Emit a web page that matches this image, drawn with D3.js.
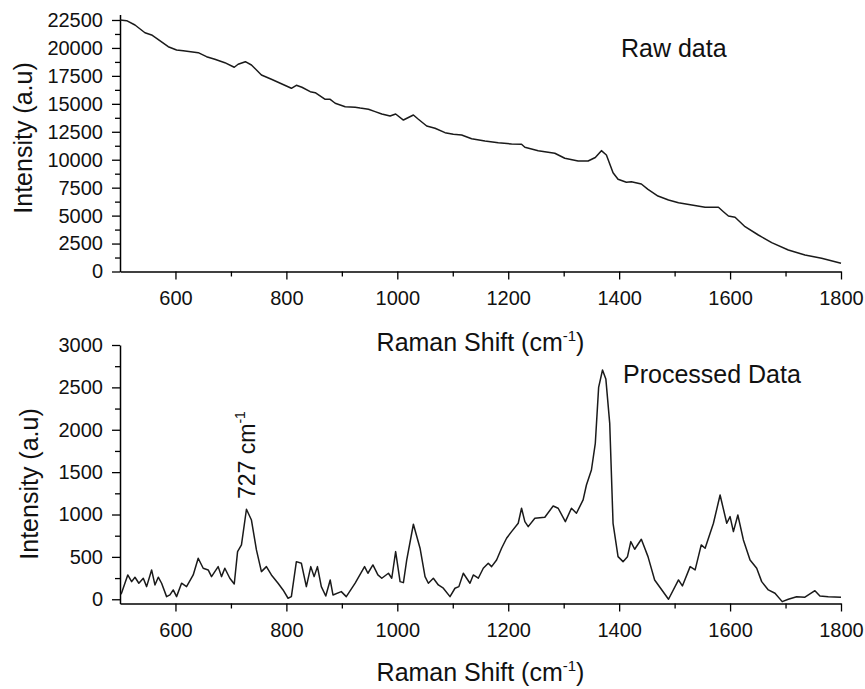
<!DOCTYPE html>
<html>
<head>
<meta charset="utf-8">
<script src="https://cdn.jsdelivr.net/npm/d3@7"></script>
<style>
  html, body { margin: 0; padding: 0; background: #fff; }
  svg { display: block; font-family: "Liberation Sans", Arial, sans-serif; }
</style>
</head>
<body>
<svg id="chart" width="865" height="689"></svg>
<script>
// ---- Data ----
const rawShift = [500,512,527,545,557,566,587,602,614,641,656,671,689,706,713,726,737,755,773,792,809,818,828,843,852,870,879,888,906,924,933,948,960,972,987,997,1011,1029,1038,1053,1068,1086,1101,1116,1134,1158,1182,1206,1224,1230,1254,1284,1302,1326,1344,1357,1368,1377,1389,1398,1413,1422,1440,1452,1470,1489,1507,1531,1555,1579,1588,1597,1609,1627,1651,1675,1705,1735,1765,1800];
const rawIntensity = [22500,22440,22050,21360,21160,20860,20110,19815,19750,19575,19216,18985,18680,18270,18540,18770,18475,17580,17195,16775,16390,16660,16480,16085,16000,15400,15400,15050,14740,14700,14620,14510,14300,14090,13910,14090,13550,14000,13620,13015,12810,12420,12275,12210,11880,11675,11520,11405,11380,11110,10810,10575,10130,9885,9885,10200,10810,10420,8840,8250,7980,8035,7830,7350,6750,6400,6155,5950,5745,5745,5350,4965,4850,4010,3265,2580,1925,1475,1180,735];

const procShift = [502,514,521,527,534,542,548,557,563,569,575,584,590,596,602,611,620,632,641,650,659,665,677,683,689,698,706,712,719,728,737,746,755,764,773,785,794,803,809,818,827,836,844,850,856,863,871,879,884,899,908,924,941,947,956,965,972,984,990,997,1005,1011,1017,1029,1041,1050,1056,1065,1074,1083,1095,1104,1111,1119,1131,1137,1146,1155,1164,1170,1179,1188,1197,1206,1218,1224,1230,1236,1248,1266,1281,1290,1303,1314,1323,1335,1341,1350,1357,1363,1370,1376,1383,1389,1398,1407,1415,1421,1428,1440,1452,1464,1489,1507,1514,1528,1537,1548,1555,1570,1582,1594,1600,1606,1614,1624,1636,1648,1657,1669,1681,1694,1705,1720,1735,1753,1762,1777,1800];
const procIntensity = [60,287,208,260,189,248,149,346,169,260,189,31,51,110,31,189,149,287,484,366,346,267,385,267,366,248,180,562,641,1062,935,582,326,385,287,189,110,12,31,444,425,149,385,267,385,149,39,228,51,90,31,190,385,307,405,287,248,307,248,562,208,196,464,885,602,267,189,248,169,130,31,130,149,307,189,287,248,366,425,385,464,602,720,798,897,1074,916,857,956,967,1101,1074,916,1074,1015,1172,1348,1525,1840,2500,2705,2600,2076,896,503,444,503,680,590,708,503,228,0,228,157,385,346,641,602,897,1230,897,975,798,994,700,464,366,208,110,71,-28,0,30,24,101,39,31,24];

const xTicks = [600,800,1000,1200,1400,1600,1800];
const xMinorTicks = [700,900,1100,1300,1500,1700];
const rawTicks = [0,2500,5000,7500,10000,12500,15000,17500,20000,22500];
const rawMinorTicks = [1250,3750,6250,8750,11250,13750,16250,18750,21250];
const procTicks = [0,500,1000,1500,2000,2500,3000];
const procMinorTicks = [250,750,1250,1750,2250,2750];

// ---- Layout ----
const svg = d3.select("#chart");
const left = 120, right = 841;
const FONT_TICK = 20, FONT_TITLE = 25;
const fmt = d3.format("d");

const x = d3.scaleLinear().domain([500, 1800]).range([left, right]);
const yRaw = d3.scaleLinear().domain([0, 23000]).range([271.5, 14.4]);
const yProc = d3.scaleLinear().domain([-50, 3000]).range([603.5, 345]);

function drawAxes(yScale, major, minor, baseY) {
  const g = svg.append("g");
  // x axis
  const gx = g.append("g").attr("transform", `translate(0,${baseY})`);
  gx.call(d3.axisBottom(x).tickValues(xTicks).tickSize(8).tickSizeOuter(0).tickPadding(11).tickFormat(fmt));
  gx.append("g").call(d3.axisBottom(x).tickValues(xMinorTicks).tickSize(5).tickFormat(""))
    .select(".domain").remove();
  // y axis
  const gy = g.append("g").attr("transform", `translate(${left},0)`);
  gy.call(d3.axisLeft(yScale).tickValues(major).tickSize(8).tickSizeOuter(0).tickPadding(9).tickFormat(fmt));
  gy.append("g").call(d3.axisLeft(yScale).tickValues(minor).tickSize(5).tickFormat(""))
    .select(".domain").remove();
  g.selectAll(".domain").attr("stroke", "#000").attr("stroke-width", 1.5);
  g.selectAll(".tick line").attr("stroke", "#000").attr("stroke-width", 1.3);
  g.selectAll(".tick text").attr("font-size", FONT_TICK).attr("fill", "#111")
    .attr("font-family", "'Liberation Sans', Arial, sans-serif");
}

drawAxes(yRaw, rawTicks, rawMinorTicks, 271.5);
drawAxes(yProc, procTicks, procMinorTicks, 603.5);

// ---- Lines ----
const rawData = rawShift.map((s, i) => [s, rawIntensity[i]]);
const procData = procShift.map((s, i) => [s, procIntensity[i]]);

svg.append("path").datum(rawData)
  .attr("fill", "none").attr("stroke", "#1a1a1a").attr("stroke-width", 1.5)
  .attr("stroke-linejoin", "round")
  .attr("d", d3.line().x(d => x(d[0])).y(d => yRaw(d[1])));

svg.append("path").datum(procData)
  .attr("fill", "none").attr("stroke", "#1a1a1a").attr("stroke-width", 1.5)
  .attr("stroke-linejoin", "round")
  .attr("d", d3.line().x(d => x(d[0])).y(d => yProc(d[1])));

// ---- Texts ----
function xTitle(yBase) {
  const t = svg.append("text").attr("x", (left + right) / 2).attr("y", yBase)
    .attr("text-anchor", "middle").attr("font-size", FONT_TITLE).attr("fill", "#111");
  t.append("tspan").text("Raman Shift (cm");
  t.append("tspan").attr("font-size", 15).attr("dy", -10).text("-1");
  t.append("tspan").attr("dy", 10).text(")");
}
xTitle(351);
xTitle(681);

function yTitle(cx, cy) {
  svg.append("text").attr("transform", `translate(${cx},${cy}) rotate(-90)`)
    .attr("text-anchor", "middle").attr("font-size", FONT_TITLE).attr("fill", "#111")
    .text("Intensity (a.u)");
}
yTitle(32, 138);
yTitle(38, 484);

svg.append("text").attr("x", 621).attr("y", 57).attr("font-size", FONT_TITLE).attr("fill", "#111").text("Raw data");
svg.append("text").attr("x", 623).attr("y", 383).attr("font-size", FONT_TITLE).attr("fill", "#111").text("Processed Data");

const pk = svg.append("text").attr("transform", "translate(255,499) rotate(-90)")
  .attr("font-size", 23).attr("fill", "#111");
pk.append("tspan").text("727 cm");
pk.append("tspan").attr("font-size", 14).attr("dy", -10).text("-1");
</script>
</body>
</html>
